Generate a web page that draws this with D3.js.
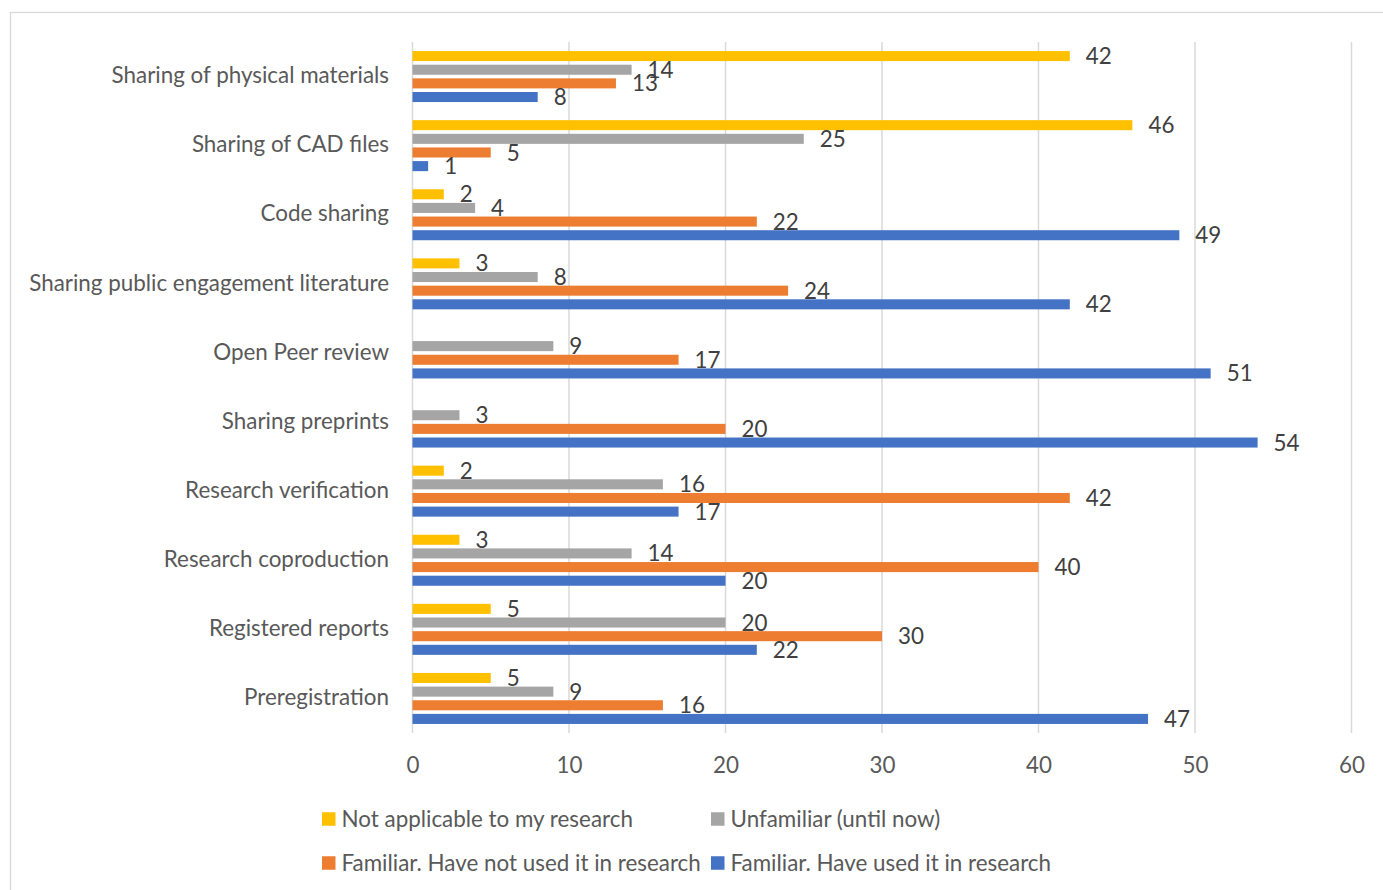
<!DOCTYPE html>
<html>
<head>
<meta charset="utf-8">
<script src="https://cdn.jsdelivr.net/npm/d3@7"></script>
<style>
  html, body { margin: 0; padding: 0; background: #fff; }
  svg { display: block; }
  text { font-family: Lato, "Open Sans", sans-serif; }
</style>
</head>
<body>
<svg id="chart" width="1383" height="890"></svg>
<script>
// Survey responses per open-research practice
const categories = [
  "Sharing of physical materials",
  "Sharing of CAD files",
  "Code sharing",
  "Sharing public engagement literature",
  "Open Peer review",
  "Sharing preprints",
  "Research verification",
  "Research coproduction",
  "Registered reports",
  "Preregistration"
];
const seriesNames = [
  "Not applicable to my research",
  "Unfamiliar (until now)",
  "Familiar. Have not used it in research",
  "Familiar. Have used it in research"
];
const notApplicable   = [42, 46, 2, 3, null, null, 2, 3, 5, 5];
const unfamiliar      = [14, 25, 4, 8, 9, 3, 16, 14, 20, 9];
const familiarNotUsed = [13, 5, 22, 24, 17, 20, 42, 40, 30, 16];
const familiarUsed    = [8, 1, 49, 42, 51, 54, 17, 20, 22, 47];
const xTicks = [0, 10, 20, 30, 40, 50, 60];
const colors = ["#FFC000", "#A5A5A5", "#ED7D31", "#4472C4"];

const seriesValues = [notApplicable, unfamiliar, familiarNotUsed, familiarUsed];

const svg = d3.select("#chart");
const FONT = 22.4;

// outer frame
svg.append("rect")
  .attr("x", 10.5).attr("y", 12.5)
  .attr("width", 1400).attr("height", 900)
  .attr("fill", "none").attr("stroke", "#D9D9D9").attr("stroke-width", 1.3);

const plot = { left: 412.5, right: 1351.5, top: 42, bottom: 733 };

const x = d3.scaleLinear().domain([0, 60]).range([plot.left, plot.right]);
const y0 = d3.scaleBand().domain(categories)
  .range([plot.top, plot.bottom]).paddingInner(0.262).paddingOuter(0.131);
const y1 = d3.scaleBand().domain(d3.range(seriesNames.length))
  .range([0, y0.bandwidth()]).paddingInner(0.264).paddingOuter(0);

// vertical gridlines
svg.append("g").selectAll("line").data(xTicks).join("line")
  .attr("x1", d => x(d)).attr("x2", d => x(d))
  .attr("y1", plot.top).attr("y2", plot.bottom)
  .attr("stroke", "#D9D9D9").attr("stroke-width", 1.5);

// x axis labels
const xAxis = svg.append("g")
  .attr("transform", `translate(0,${plot.bottom})`)
  .call(d3.axisBottom(x).tickValues(xTicks).tickSize(0).tickPadding(24).tickFormat(d3.format("d")));
xAxis.select(".domain").remove();
xAxis.selectAll("text")
  .attr("fill", "#595959").style("font-size", FONT + "px")
  .style("font-family", "Lato, 'Open Sans', sans-serif");

// category labels
svg.append("g").selectAll("text").data(categories).join("text")
  .attr("x", 389)
  .attr("y", d => y0(d) + y0.bandwidth() / 2)
  .attr("dy", "0.3em")
  .attr("text-anchor", "end")
  .attr("fill", "#595959")
  .style("font-size", FONT + "px")
  .text(d => d);

// bars and value labels
const rows = [];
categories.forEach((c, i) => {
  seriesValues.forEach((vals, s) => {
    if (vals[i] !== null) rows.push({ c, s, v: vals[i] });
  });
});

const barG = svg.append("g");
barG.selectAll("rect").data(rows).join("rect")
  .attr("x", x(0))
  .attr("y", d => y0(d.c) + y1(d.s))
  .attr("width", d => x(d.v) - x(0))
  .attr("height", y1.bandwidth())
  .attr("fill", d => colors[d.s]);

svg.append("g").selectAll("text").data(rows).join("text")
  .attr("x", d => x(d.v) + 16)
  .attr("y", d => y0(d.c) + y1(d.s) + y1.bandwidth() / 2)
  .attr("dy", "0.36em")
  .attr("fill", "#404040")
  .style("font-size", FONT + "px")
  .text(d => d.v);

// legend (2 x 2)
const legendPos = [
  { x: 322, y: 819 }, { x: 711, y: 819 },
  { x: 322, y: 863 }, { x: 711, y: 863 }
];
const lg = svg.append("g").selectAll("g").data(seriesNames).join("g")
  .attr("transform", (d, i) => `translate(${legendPos[i].x},${legendPos[i].y})`);
lg.append("rect")
  .attr("x", 0).attr("y", -6.75).attr("width", 13.5).attr("height", 13.5)
  .attr("fill", (d, i) => colors[i]);
lg.append("text")
  .attr("x", 19.5).attr("dy", "0.35em")
  .attr("fill", "#595959")
  .style("font-size", FONT + "px")
  .text(d => d);
</script>
</body>
</html>
